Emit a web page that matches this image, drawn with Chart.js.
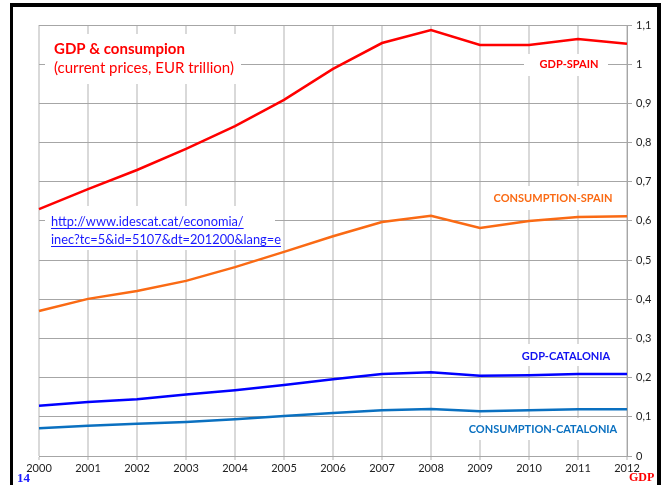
<!DOCTYPE html>
<html>
<head>
<meta charset="utf-8">
<script src="https://cdn.jsdelivr.net/npm/chart.js@4.4.0/dist/chart.umd.min.js"></script>
<style>
  html, body { margin: 0; padding: 0; background: #fff; }
  #wrap { width: 665px; height: 485px; position: relative; }
</style>
</head>
<body>
<div id="wrap"><canvas id="c" width="665" height="485"></canvas></div>
<script>
// years on the x axis
const years = ['2000','2001','2002','2003','2004','2005','2006','2007','2008','2009','2010','2011','2012'];

// EUR trillion
const gdpSpain = [0.630, 0.681, 0.730, 0.784, 0.842, 0.909, 0.988, 1.054, 1.087, 1.049, 1.049, 1.064, 1.052];
const consSpain = [0.370, 0.401, 0.421, 0.447, 0.482, 0.521, 0.561, 0.597, 0.613, 0.582, 0.600, 0.610, 0.612];
const gdpCat = [0.128, 0.138, 0.145, 0.157, 0.168, 0.181, 0.196, 0.209, 0.214, 0.205, 0.206, 0.209, 0.209];
const consCat = [0.071, 0.077, 0.082, 0.087, 0.094, 0.102, 0.110, 0.117, 0.120, 0.114, 0.117, 0.119, 0.119];

const FONT = 'Lato, "Open Sans", sans-serif';

// labels on white boxes, frame, page number
const decor = {
  id: 'decor',
  beforeDatasetsDraw(chart) {
    const ctx = chart.ctx;
    ctx.save();
    ctx.fillStyle = '#fff';
    ctx.fillRect(45, 34, 196, 50);
    ctx.fillRect(45, 206, 230, 44);
    ctx.fillRect(524, 54, 84, 22);
    ctx.fillRect(488, 186, 128, 24);
    ctx.fillRect(515, 344, 100, 22);
    ctx.fillRect(464, 418, 158, 22);

    ctx.textBaseline = 'alphabetic';
    ctx.fillStyle = '#ff0000';
    ctx.font = 'bold 15px ' + FONT;
    ctx.fillText('GDP & consumpion', 54, 54);
    ctx.font = '15px ' + FONT;
    ctx.fillText('(current prices, EUR trillion)', 54, 73);

    ctx.font = 'bold 11px ' + FONT;
    ctx.textAlign = 'center';
    ctx.fillStyle = '#ff0000';
    ctx.fillText('GDP-SPAIN', 569, 68);
    ctx.fillStyle = '#fa6a14';
    ctx.fillText('CONSUMPTION-SPAIN', 553, 202);
    ctx.fillStyle = '#1010f0';
    ctx.fillText('GDP-CATALONIA', 566, 360);
    ctx.fillStyle = '#0a70c0';
    ctx.fillText('CONSUMPTION-CATALONIA', 543, 433);

    ctx.textAlign = 'left';
    ctx.fillStyle = '#1a1aff';
    ctx.font = '12.8px ' + FONT;
    const link1 = 'http://www.idescat.cat/economia/';
    const link2 = 'inec?tc=5&id=5107&dt=201200&lang=e';
    ctx.fillText(link1, 51, 226);
    ctx.fillText(link2, 51, 244);
    ctx.fillRect(51, 228, ctx.measureText(link1).width, 1);
    ctx.fillRect(51, 246, ctx.measureText(link2).width, 1);
    ctx.restore();
  },
  afterDraw(chart) {
    const ctx = chart.ctx;
    ctx.save();
    ctx.fillStyle = '#000';
    ctx.fillRect(10, 3, 650, 4);
    ctx.fillRect(10, 3, 3, 482);
    ctx.fillRect(657, 3, 4, 482);
    ctx.font = 'bold 13px "Liberation Serif", serif';
    ctx.fillStyle = '#1a1aff';
    ctx.fillText('14', 17, 482);
    ctx.fillStyle = '#ff0000';
    ctx.font = 'bold 12px "Liberation Serif", serif';
    ctx.fillText('GDP', 629, 481);
    ctx.restore();
  }
};

function line(label, data, color) {
  return {
    label: label,
    data: data,
    borderColor: color,
    backgroundColor: color,
    borderWidth: 2.5,
    pointRadius: 0,
    tension: 0
  };
}

new Chart(document.getElementById('c'), {
  type: 'line',
  data: {
    labels: years,
    datasets: [
      line('GDP-SPAIN', gdpSpain, '#ff0000'),
      line('CONSUMPTION-SPAIN', consSpain, '#fa6a14'),
      line('GDP-CATALONIA', gdpCat, '#0000ff'),
      line('CONSUMPTION-CATALONIA', consCat, '#0a70c0')
    ]
  },
  options: {
    responsive: false,
    animation: false,
    layout: { padding: { left: 39, top: 25, right: 0, bottom: 0 } },
    plugins: {
      legend: { display: false },
      tooltip: { enabled: false }
    },
    scales: {
      x: {
        afterFit: s => { s.height = 29; },
        grid: { color: '#d9d9d9', lineWidth: 2, tickLength: 4 },
        border: { color: '#a6a6a6' },
        ticks: { color: '#222', font: { family: FONT, size: 11 }, maxRotation: 0, padding: 2 }
      },
      y: {
        position: 'right',
        min: 0,
        max: 1.1,
        afterFit: s => { s.width = 38; },
        grid: { color: '#a6a6a6', lineWidth: 1, tickLength: 5 },
        border: { color: '#a6a6a6' },
        ticks: {
          stepSize: 0.1,
          color: '#222',
          font: { family: FONT, size: 11 },
          padding: 4,
          callback: v => (Math.round(v * 10) / 10).toString().replace('.', ',')
        }
      }
    }
  },
  plugins: [decor]
});
</script>
</body>
</html>
